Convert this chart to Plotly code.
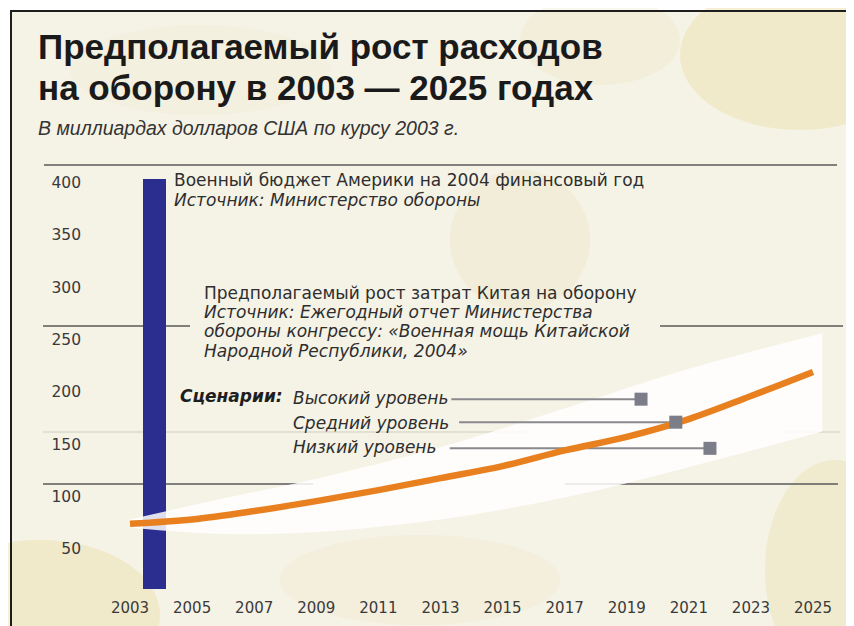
import plotly.graph_objects as go

# ---------------- data ----------------
years = [2003, 2005, 2007, 2009, 2011, 2013, 2015, 2017, 2019, 2021, 2023, 2025]
china_mid = [74, 78, 86, 95.5, 106, 117.5, 129, 144, 157, 174, 196, 219]

band_years = [2003, 2006, 2009, 2013, 2017, 2021, 2025.3]
band_high = [78, 98, 117, 147, 184, 222, 256]
band_low = [70, 64, 66, 78, 99, 128, 162]

us_year = [2004]
us_budget = [404]

scenario_names = ["Высокий уровень", "Средний уровень", "Низкий уровень"]
scenario_years = [2019.46, 2020.58, 2021.68]
scenario_values = [193, 171, 146]
leader_start = [2013.35, 2013.6, 2013.3]

x_ticks = list(range(2003, 2026, 2))
y_ticks = [50, 100, 150, 200, 250, 300, 350, 400]

# ---------------- geometry helpers (layout only) ----------------
W, H = 854, 626
OFF = 8                      # page body offset of the figure
PL, PR, PT, PB = 88, 845, 160, 589   # plot area in page pixels
ML, MR, MT, MB = PL - OFF, W - (PR - OFF), PT - OFF, H - (PB - OFF)


def px(x):
    return (x - PL) / (PR - PL)


def py(y):
    return (PB - y) / (PB - PT)


TXT = "#2e2e2e"
FONT = "DejaVu Sans"

fig = go.Figure()

# white band
fig.add_trace(go.Scatter(x=band_years, y=band_low, mode="lines",
                         line=dict(width=0, shape="spline", color="rgba(255,255,255,0)"),
                         hoverinfo="skip", showlegend=False))
fig.add_trace(go.Scatter(x=band_years, y=band_high, mode="lines", fill="tonexty",
                         fillcolor="rgba(255,255,255,0.85)",
                         line=dict(width=0, shape="spline", color="rgba(255,255,255,0)"),
                         hoverinfo="skip", showlegend=False))

# US bar
fig.add_trace(go.Bar(x=us_year, y=us_budget, width=0.74, offset=-0.58,
                     marker=dict(color="#2b2d8f", line=dict(width=0)),
                     showlegend=False))

# leader lines
for xs, xe, v in zip(leader_start, scenario_years, scenario_values):
    fig.add_trace(go.Scatter(x=[xs, xe], y=[v, v], mode="lines",
                             line=dict(color="#8a8a8e", width=2),
                             hoverinfo="skip", showlegend=False))

# China line
fig.add_trace(go.Scatter(x=years, y=china_mid, mode="lines",
                         line=dict(color="#e8801f", width=6.5, shape="spline"),
                         showlegend=False))

# scenario markers
fig.add_trace(go.Scatter(x=scenario_years, y=scenario_values, mode="markers",
                         marker=dict(symbol="square", size=13, color="#7b7d88"),
                         text=scenario_names, showlegend=False))

shapes = []
# cream background panel
shapes.append(dict(type="rect", xref="paper", yref="paper", x0=px(11), x1=px(W + 20),
                   y0=py(H + 20), y1=py(11), fillcolor="#f5f2e6", line=dict(width=0),
                   layer="below"))
# soft yellow tints
for (cx, cy, rx, ry, col, op) in [
    (800, 55, 120, 75, "#ede3b2", 0.55),
    (600, 40, 80, 45, "#efe7c2", 0.35),
    (520, 240, 70, 70, "#eee6bc", 0.35),
    (40, 615, 120, 75, "#ece1ad", 0.5),
    (835, 570, 70, 110, "#ece2b2", 0.45),
    (420, 580, 140, 45, "#efe9c8", 0.3),
    (200, 70, 130, 45, "#f0ebd2", 0.3),
]:
    shapes.append(dict(type="circle", xref="paper", yref="paper",
                       x0=px(cx - rx), x1=px(cx + rx), y0=py(cy + ry), y1=py(cy - ry),
                       fillcolor=col, opacity=op, line=dict(width=0), layer="below"))
# frame lines (top and left)
shapes.append(dict(type="line", xref="paper", yref="paper", x0=px(10), x1=px(W + 20),
                   y0=py(11), y1=py(11), line=dict(color="#1e1e1e", width=2)))
shapes.append(dict(type="line", xref="paper", yref="paper", x0=px(11), x1=px(11),
                   y0=py(10), y1=py(H + 20), line=dict(color="#1e1e1e", width=2)))
# decorative rules
for (x0, x1, y, col, w) in [
    (44, 837, 165, "#5a5a5a", 1.5),
    (43, 190, 326, "#5a5a5a", 1.5),
    (660, 843, 326, "#5a5a5a", 1.5),
    (43, 530, 432, "#cfccc0", 1),
    (780, 840, 432, "#cfccc0", 1),
    (43, 313, 484, "#5a5a5a", 1.5),
    (565, 838, 484, "#5a5a5a", 1.5),
]:
    shapes.append(dict(type="line", xref="paper", yref="paper", x0=px(x0), x1=px(x1),
                       y0=py(y), y1=py(y), line=dict(color=col, width=w), layer="below"))

annotations = []


def note(text, x, y, size, color=TXT, family=FONT, xanchor="left"):
    annotations.append(dict(text=text, x=px(x), y=py(y), xref="paper", yref="paper",
                            xanchor=xanchor, yanchor="middle", showarrow=False,
                            font=dict(size=size, color=color, family=family)))


# title & subtitle
note("<b>Предполагаемый рост расходов</b>", 36, 47, 35, "#1a1a1a", "Liberation Sans")
note("<b>на оборону в 2003 — 2025 годах</b>", 36, 87, 35, "#1a1a1a", "Liberation Sans")
note("<i>В миллиардах долларов США по курсу 2003 г.</i>", 36, 128, 19.5, "#333333", "Liberation Sans")

# US annotation
note("Военный бюджет Америки на 2004 финансовый год", 172, 180, 17)
note("<i>Источник: Министерство обороны</i>", 172, 200, 17)

# China annotation
note("Предполагаемый рост затрат Китая на оборону", 202, 293, 17)
note("<i>Источник: Ежегодный отчет Министерства</i>", 202, 312, 17)
note("<i>обороны конгрессу: «Военная мощь Китайской</i>", 202, 331, 17)
note("<i>Народной Республики, 2004»</i>", 202, 351, 17)

# scenarios
note("<b><i>Сценарии:</i></b>", 178, 396, 17, "#1e1e1e")
note("<i>" + scenario_names[0] + "</i>", 291, 398, 17)
note("<i>" + scenario_names[1] + "</i>", 291, 423, 17)
note("<i>" + scenario_names[2] + "</i>", 291, 447, 17)

fig.update_layout(
    width=W, height=H,
    margin=dict(l=ML, r=MR, t=MT, b=MB, pad=0),
    paper_bgcolor="#ffffff",
    plot_bgcolor="rgba(0,0,0,0)",
    shapes=shapes,
    annotations=annotations,
    showlegend=False,
    bargap=0,
    xaxis=dict(range=[2001.647, 2026.03], tickvals=x_ticks, showgrid=False,
               zeroline=False, showline=False, ticks="", ticklabelstandoff=8,
               tickfont=dict(family=FONT, size=15, color="#3a3a3a"), fixedrange=True),
    yaxis=dict(range=[11.5, 421.7], tickvals=y_ticks, showgrid=False,
               zeroline=False, showline=False, ticks="", ticklabelstandoff=6,
               tickfont=dict(family=FONT, size=15.5, color="#3a3a3a"), fixedrange=True),
)

fig.write_html("out.html")
